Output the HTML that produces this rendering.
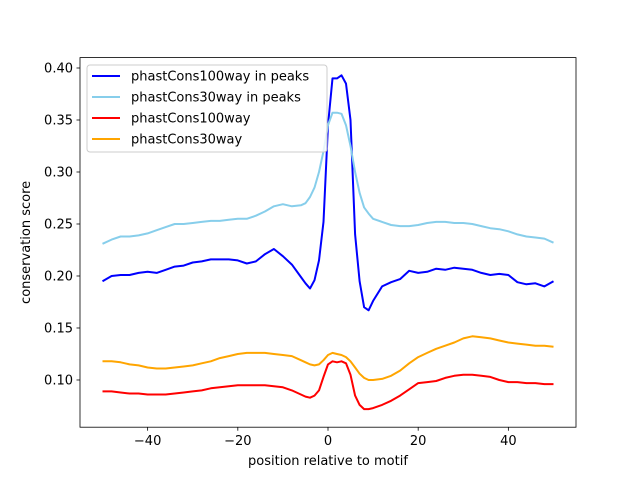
<!DOCTYPE html>
<html><head><meta charset="utf-8"><style>
body{margin:0;background:#fff}
svg text{font-family:"DejaVu Sans","Liberation Sans",sans-serif;font-size:13px;fill:#000}
</style></head><body>
<svg id="chart" width="640" height="480" xmlns="http://www.w3.org/2000/svg">
<rect width="640" height="480" fill="#fff"/>
<g id="plot"></g>
</svg>
<script>
const positions=[-50,-48,-46,-44,-42,-40,-38,-36,-34,-32,-30,-28,-26,-24,-22,-20,-18,-16,-14,-12,-10,-8,-6,-5,-4,-3,-2,-1,0,1,2,3,4,5,6,7,8,9,10,12,14,16,18,20,22,24,26,28,30,32,34,36,38,40,42,44,46,48,50];
const peaks100=[.195,.200,.201,.201,.203,.204,.203,.206,.209,.210,.213,.214,.216,.216,.216,.215,.212,.214,.221,.226,.219,.211,.199,.193,.188,.196,.215,.252,.345,.390,.390,.393,.385,.350,.240,.195,.170,.167,.176,.190,.194,.197,.205,.203,.204,.207,.206,.208,.207,.206,.203,.201,.202,.201,.194,.192,.193,.190,.195];
const peaks30=[.231,.235,.238,.238,.239,.241,.244,.247,.250,.250,.251,.252,.253,.253,.254,.255,.255,.258,.262,.267,.269,.267,.268,.270,.276,.285,.300,.320,.345,.357,.357,.356,.345,.325,.300,.280,.266,.260,.255,.252,.249,.248,.248,.249,.251,.252,.252,.251,.251,.250,.248,.246,.245,.243,.240,.238,.237,.236,.232];
const all100=[.089,.089,.088,.087,.087,.086,.086,.086,.087,.088,.089,.090,.092,.093,.094,.095,.095,.095,.095,.094,.093,.090,.086,.084,.083,.085,.090,.103,.115,.118,.117,.118,.116,.105,.085,.076,.072,.072,.073,.076,.080,.085,.091,.097,.098,.099,.102,.104,.105,.105,.104,.103,.100,.098,.098,.097,.097,.096,.096];
const all30=[.118,.118,.117,.115,.114,.112,.111,.111,.112,.113,.114,.116,.118,.121,.123,.125,.126,.126,.126,.125,.124,.123,.119,.117,.115,.114,.115,.119,.124,.126,.125,.124,.122,.118,.112,.106,.102,.100,.100,.101,.104,.109,.116,.122,.126,.130,.133,.136,.140,.142,.141,.140,.138,.136,.135,.134,.133,.133,.132];
const yTicks=[0.10,0.15,0.20,0.25,0.30,0.35,0.40];
const xTicks=[-40,-20,0,20,40];
const seriesNames=["phastCons100way in peaks","phastCons30way in peaks","phastCons100way","phastCons30way"];
const seriesColors=["#0000ff","#87ceeb","#ff0000","#ffa500"];
const L=80,R=576,T=57.6,B=427.2,xmin=-55,xmax=55,ymin=0.0546,ymax=0.41;
const sx=v=>L+(v-xmin)/(xmax-xmin)*(R-L);
const sy=v=>B-(v-ymin)/(ymax-ymin)*(B-T);
const NS="http://www.w3.org/2000/svg";
const g=document.getElementById('plot');
function mk(t,a,p){const e=document.createElementNS(NS,t);for(const k in a)e.setAttribute(k,a[k]);(p||g).appendChild(e);return e;}
const data=[peaks100,peaks30,all100,all30];
data.forEach((vals,i)=>{
  const p=mk('polyline',{points:vals.map((v,j)=>sx(positions[j]).toFixed(1)+','+sy(v).toFixed(1)).join(' '),fill:'none',stroke:seriesColors[i],'stroke-width':2,'stroke-linejoin':'round'});
  
  
});
const fr=mk('rect',{x:L,y:T,width:R-L,height:B-T,fill:'none',stroke:'#000','stroke-width':0.8});


yTicks.forEach(v=>{
  mk('line',{x1:L-3.5,x2:L,y1:sy(v),y2:sy(v),stroke:'#000','stroke-width':0.8});
  const t=mk('text',{x:L-7,y:sy(v)+4.5,'text-anchor':'end'});t.textContent=v.toFixed(2);
  
  
});
xTicks.forEach(v=>{
  mk('line',{x1:sx(v),x2:sx(v),y1:B,y2:B+3.5,stroke:'#000','stroke-width':0.8});
  const t=mk('text',{x:sx(v),y:B+18,'text-anchor':'middle'});t.textContent=v<0?'\u2212'+(-v):String(v);
  
  
});
const xt=mk('text',{x:(L+R)/2,y:465,'text-anchor':'middle'});xt.textContent='position relative to motif';


const yt=mk('text',{x:30,y:(T+B)/2,'text-anchor':'middle',transform:'rotate(-90 30 '+((T+B)/2)+')'});yt.textContent='conservation score';


const lg=mk('g',{});


mk('rect',{x:87,y:65,width:240,height:87,rx:3,fill:'#fff','fill-opacity':0.8,stroke:'#ccc','stroke-width':1},lg);
seriesNames.forEach((n,i)=>{
  const y=76+i*21;
  mk('line',{x1:92,x2:120,y1:y,y2:y,stroke:seriesColors[i],'stroke-width':2},lg);
  const t=mk('text',{x:131,y:y+4.5},lg);t.textContent=n;
  
  
});
</script>
</body></html>
